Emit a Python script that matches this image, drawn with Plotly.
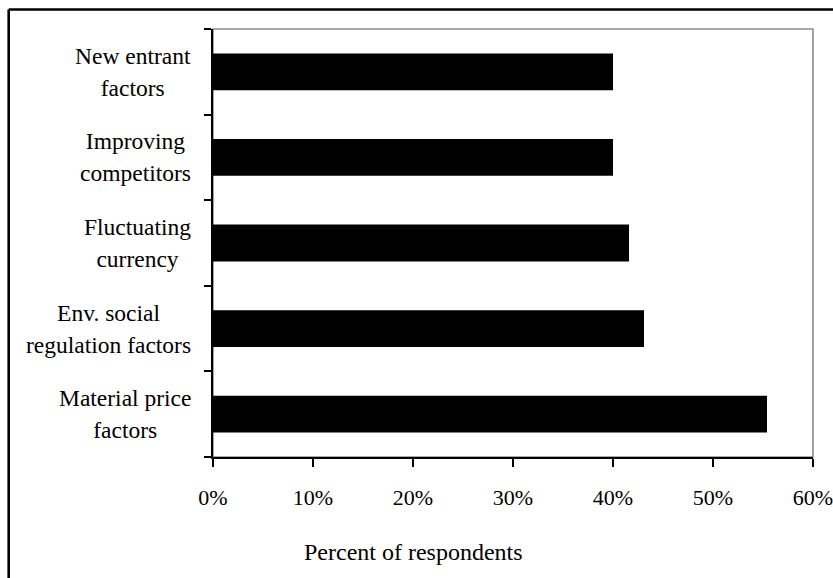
import plotly.graph_objects as go

categories = ["New entrant<br>factors", "Improving<br>competitors", "Fluctuating<br>currency",
              "Env. social<br>regulation factors", "Material price<br>factors"]
values = [40.0, 40.0, 41.6, 43.1, 55.4]
x_ticks = [0, 10, 20, 30, 40, 50, 60]
x_tick_labels = ["0%", "10%", "20%", "30%", "40%", "50%", "60%"]
x_title = "Percent of respondents"

FONT = "Liberation Serif"
W, H = 833, 578
L, R, T, B = 213, 20, 29, 121
pw, ph = W - L - R, H - T - B

fig = go.Figure()
fig.add_trace(go.Bar(
    x=values, y=list(range(len(categories))), orientation="h",
    marker=dict(color="black", line=dict(width=0)),
    width=0.43, hoverinfo="skip"))

annotations = []
for i, c in enumerate(categories):
    txt = "<br>".join(f'<span style="font-size:23.5px">{p}</span>' for p in c.split("<br>"))
    annotations.append(dict(x=0, xref="paper", y=i, yref="y", text=txt, showarrow=False,
                            xanchor="right", yanchor="middle", align="center", xshift=-20,
                            font=dict(family=FONT, size=24.6, color="black")))
annotations.append(dict(x=(413 - L) / pw, xref="paper", y=(H - B - 552) / ph, yref="paper",
                        text=x_title, showarrow=False, xanchor="center", yanchor="middle",
                        font=dict(family=FONT, size=24, color="black")))

ox0 = (8.7 - L) / pw
oy1 = (H - B - 9.5) / ph
shapes = [
    dict(type="rect", xref="paper", yref="paper", x0=0, x1=1, y0=0, y1=1,
         line=dict(color="#8c8c8c", width=1.6), layer="below"),
    dict(type="line", xref="paper", yref="paper", x0=ox0, x1=ox0,
         y0=(H - B - 600) / ph, y1=oy1, line=dict(color="black", width=2.6)),
    dict(type="line", xref="paper", yref="paper", x0=ox0, x1=(900 - L) / pw,
         y0=oy1, y1=oy1, line=dict(color="black", width=2.6)),
]

fig.update_layout(
    width=W, height=H, margin=dict(l=L, r=R, t=T, b=B, autoexpand=False),
    paper_bgcolor="white", plot_bgcolor="white", showlegend=False,
    font=dict(family=FONT, size=22, color="black"),
    bargap=0.57,
    xaxis=dict(range=[0, 60], tickmode="array", tickvals=x_ticks, ticktext=x_tick_labels,
               showgrid=False, zeroline=False, ticklabeloverflow="allow", automargin=False,
               showline=True, linecolor="black", linewidth=1.6, ticks="outside", ticklen=8,
               tickwidth=1.6, tickcolor="black", ticklabelstandoff=12,
               tickfont=dict(family=FONT, size=22, color="black")),
    yaxis=dict(type="linear", range=[4.5, -0.5], tickvals=[-0.5, 0.5, 1.5, 2.5, 3.5, 4.5],
               showticklabels=False, showgrid=False, zeroline=False, automargin=False,
               showline=True, linecolor="black", linewidth=1.6, ticks="outside", ticklen=7,
               tickwidth=1.6, tickcolor="black"),
    annotations=annotations, shapes=shapes,
)

fig.write_html("out.html")
